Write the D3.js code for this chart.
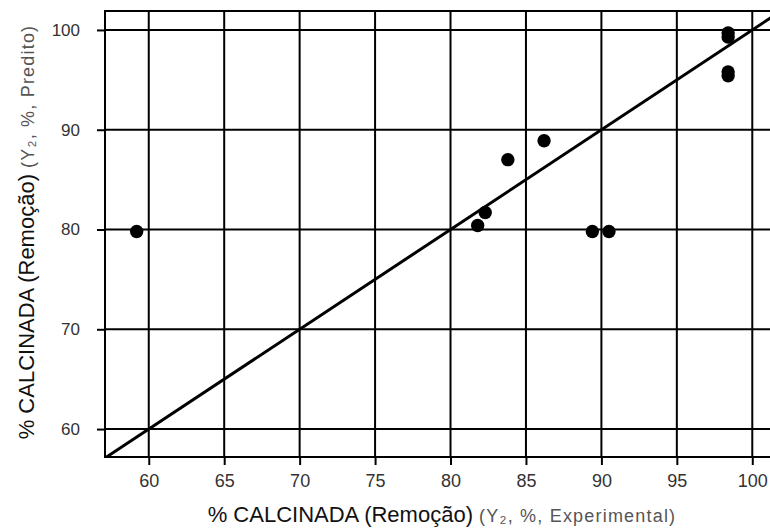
<!DOCTYPE html>
<html>
<head>
<meta charset="utf-8">
<script src="https://cdn.jsdelivr.net/npm/d3@7"></script>
<style>
  body { margin: 0; background: #fff; }
  svg { display: block; font-family: "Liberation Sans", Arial, sans-serif; }
</style>
</head>
<body>
<svg width="770" height="529"></svg>
<script>
// observed vs predicted (% removal, calcined)
var experimental = [59.2, 81.8, 82.3, 83.8, 86.2, 89.4, 90.5, 98.4, 98.4, 98.4, 98.4];
var predicted    = [79.8, 80.4, 81.7, 87.0, 88.9, 79.8, 79.8, 99.7, 99.3, 95.8, 95.4];
var xTicks = [60, 65, 70, 75, 80, 85, 90, 95, 100];
var yTicks = [60, 70, 80, 90, 100];
var xDomain = [57.1, 102.5];
var yDomain = [57.2, 101.9];

var margin = {top: 11, right: -20, bottom: 72, left: 105},
    width = 770 - margin.left - margin.right,
    height = 529 - margin.top - margin.bottom;

var svg = d3.select("svg");
var g = svg.append("g")
    .attr("transform", "translate(" + margin.left + "," + margin.top + ")");

var x = d3.scaleLinear().domain(xDomain).range([0, width]);
var y = d3.scaleLinear().domain(yDomain).range([height, 0]);

g.append("clipPath").attr("id", "plot")
  .append("rect").attr("width", width).attr("height", height);

// grid
g.selectAll(".vgrid").data(xTicks).join("line")
    .attr("x1", d => x(d)).attr("x2", d => x(d))
    .attr("y1", 0).attr("y2", height)
    .attr("stroke", "#000").attr("stroke-width", 2);
g.selectAll(".hgrid").data(yTicks).join("line")
    .attr("y1", d => y(d)).attr("y2", d => y(d))
    .attr("x1", 0).attr("x2", width)
    .attr("stroke", "#000").attr("stroke-width", 2);

// axes
var xAxis = g.append("g")
    .attr("transform", "translate(0," + height + ")")
    .call(d3.axisBottom(x).tickValues(xTicks).tickSize(8).tickPadding(9));
var yAxis = g.append("g")
    .call(d3.axisLeft(y).tickValues(yTicks).tickSize(8).tickPadding(17));
[xAxis, yAxis].forEach(function(a){
  a.select(".domain").remove();
  a.selectAll("line").attr("stroke", "#000").attr("stroke-width", 2);
  a.selectAll("text").attr("fill", "#333").style("font-size", "17px")
    .style("font-family", "'Liberation Sans', Arial, sans-serif");
});
xAxis.selectAll("text").style("font-size", "18px");

// frame
g.append("rect").attr("width", width).attr("height", height)
    .attr("fill", "none").attr("stroke", "#000").attr("stroke-width", 2);

// 1:1 line
g.append("line")
    .attr("clip-path", "url(#plot)")
    .attr("x1", x(xDomain[0])).attr("y1", y(xDomain[0]))
    .attr("x2", x(xDomain[1])).attr("y2", y(xDomain[1]))
    .attr("stroke", "#000").attr("stroke-width", 3);

// points
g.selectAll(".pt").data(experimental).join("circle")
    .attr("cx", d => x(d))
    .attr("cy", (d, i) => y(predicted[i]))
    .attr("r", 6.7)
    .attr("fill", "#000");

// axis titles
var xt = svg.append("text")
    .attr("x", 442).attr("y", 522)
    .attr("text-anchor", "middle");
xt.append("tspan").attr("fill", "#111").style("font-size", "22px")
    .text("% CALCINADA (Remoção) ");
xt.append("tspan").attr("fill", "#555").style("font-size", "18px")
    .style("letter-spacing", "1.2px")
    .text("(Y₂, %, Experimental)");

var yt = svg.append("text")
    .attr("transform", "translate(34,232) rotate(-90)")
    .attr("text-anchor", "middle");
yt.append("tspan").attr("fill", "#111").style("font-size", "22px")
    .text("% CALCINADA (Remoção) ");
yt.append("tspan").attr("fill", "#555").style("font-size", "18px")
    .style("letter-spacing", "1.2px")
    .text("(Y₂, %, Predito)");
</script>
</body>
</html>
